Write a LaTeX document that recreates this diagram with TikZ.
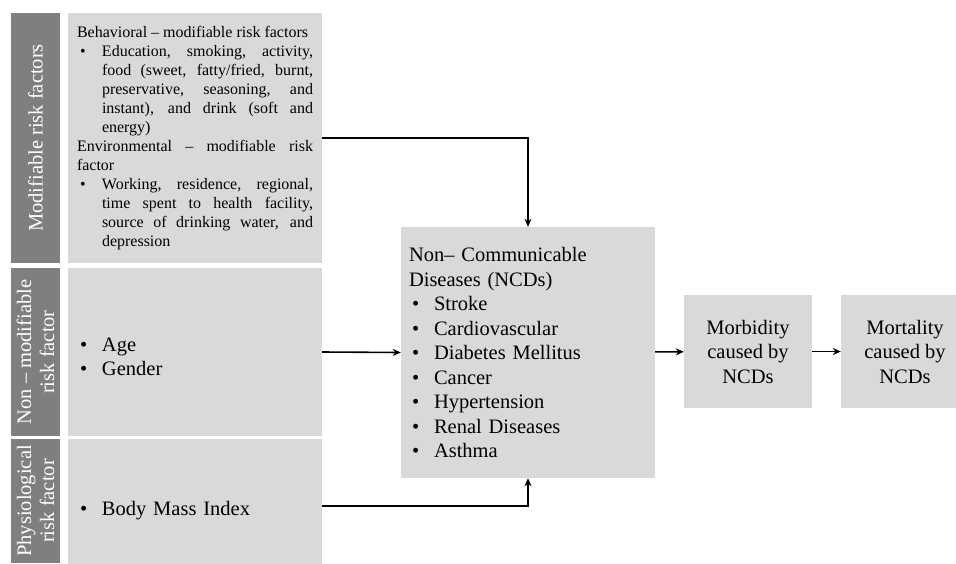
\documentclass[tikz,border=0pt]{standalone}
\usepackage{fontspec}
\setmainfont{Liberation Serif}
\usepackage{xcolor}
\usetikzlibrary{arrows.meta}

\definecolor{labelgray}{HTML}{7F7F7F}
\definecolor{boxgray}{HTML}{D9D9D9}

\newcommand{\bitem}[1]{\par\hangindent=25pt\hangafter=1\noindent\makebox[25pt][l]{\hspace{3pt}\textbullet}#1\par}

\begin{document}
\begin{tikzpicture}[x=1pt,y=-1pt,
		sidelabel/.style={fill=labelgray, text=white, rotate=90, inner sep=0pt, align=center, minimum height=49pt, font=\fontsize{20.5}{23}\selectfont},
		factorbox/.style={fill=boxgray, inner xsep=9pt, inner ysep=0pt, text width=236pt, minimum width=254pt},
		outcome/.style={fill=boxgray, minimum width=128pt, minimum height=113pt, inner sep=0pt, align=center, font=\fontsize{20.5}{24.5}\selectfont},
		link/.style={line width=1.6pt, -{Stealth[length=8pt,width=7pt]}}]
			\useasboundingbox (0,0) rectangle (956,563);
			\node (modlabel) [sidelabel, minimum width=250pt] at (35.5,138) {Modifiable risk factors};
			\node (nonmodlabel) [sidelabel, minimum width=168pt] at (35.5,352) {Non -- modifiable\\risk factor};
			\node (physlabel) [sidelabel, minimum width=124pt] at (35.5,501) {Physiological\\risk factor};
			\node (modbox) [factorbox, minimum height=250pt, align=justify, font=\fontsize{16}{19}\selectfont] at (195,138) {
				Behavioral -- modifiable risk factors
				\bitem{Education, smoking, activity,\linebreak food (sweet, fatty/fried, burnt,\linebreak preservative, seasoning, and\linebreak instant), and drink (soft and\linebreak energy)}
				Environmental -- modifiable risk\linebreak factor
				\bitem{Working, residence, regional,\linebreak time spent to health facility,\linebreak source of drinking water, and\linebreak depression}
			};
			\node (nonmodbox) [factorbox, minimum height=168pt, align=left, font=\fontsize{20.5}{24}\selectfont] at (195,352) {\bitem{Age}\bitem{Gender}};
			\node (physbox) [factorbox, minimum height=134pt, align=left, font=\fontsize{20.5}{24}\selectfont] at (195,506) {\bitem{Body Mass Index}};
			\node (ncd) [fill=boxgray, minimum width=254pt, minimum height=251pt, inner xsep=8pt, inner ysep=0pt, text width=238pt, align=left, font=\fontsize{20.5}{24.5}\selectfont] at (528,352.5) {
				Non-- Communicable\\Diseases (NCDs)
				\bitem{Stroke}\bitem{Cardiovascular}\bitem{Diabetes Mellitus}\bitem{Cancer}\bitem{Hypertension}\bitem{Renal Diseases}\bitem{Asthma}
			};
			\node (morb) [outcome] at (748,351.5) {Morbidity\\caused by\\NCDs};
			\node (mort) [outcome] at (905,351.5) {Mortality\\caused by\\NCDs};
			\draw [link] (modbox.east) -| (ncd.north);
			\draw [link] (nonmodbox.east) -- (ncd.west);
			\draw [link] (physbox.east) -| (ncd.south);
			\draw [link] (ncd) -- (morb);
			\draw [link] (morb) -- (mort);
		\end{tikzpicture}
\end{document}
